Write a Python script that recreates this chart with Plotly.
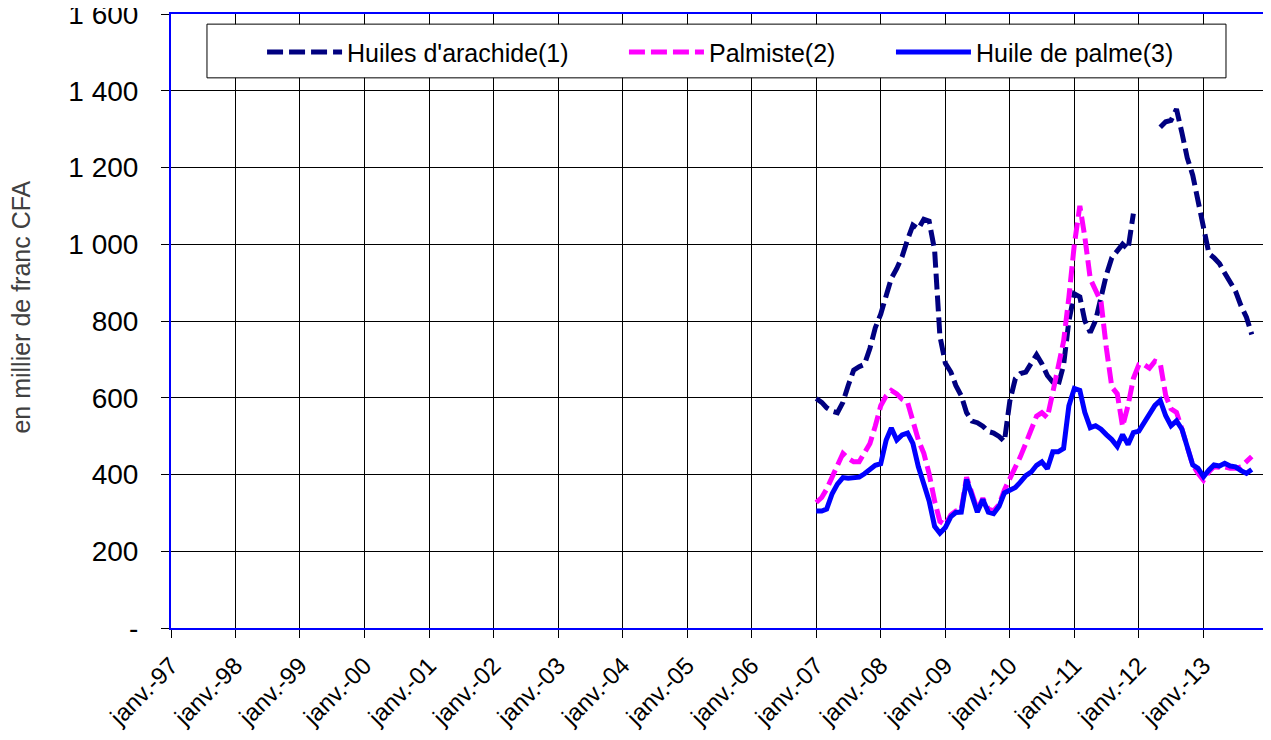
import plotly.graph_objects as go
import pandas as pd

# monthly series, janv. 2007 -> oct. 2013
months = pd.date_range("2007-01-01", periods=82, freq="MS")

arachide = [598, 588, 574, 565, 561, 588, 632, 672, 681, 687, 729, 782,
            818, 862, 911, 937, 968, 1012, 1050, 1040, 1065, 1060, 985, 760,
            690, 667, 632, 605, 561, 539, 535, 526, 512, 508, 499, 486,
            592, 650, 663, 667, 689, 712, 689, 658, 641, 632, 685, 800,
            871, 863, 801, 770, 801, 863, 920, 965, 982, 1000, 987, 1080,
            None, None, None, None, 1305, 1319, 1323, 1352, 1290, 1225, 1180, 1115,
            1040, 975, 965, 950, 925, 900, 878, 840, 810, 765]

palmiste = [327, 340, 362, 393, 424, 455, 442, 433, 433, 455, 481, 526,
            579, 605, 619, 610, 596, 588, 543, 490, 455, 402, 331, 278,
            269, 295, 305, 308, 393, 350, 308, 338, 310, 305, 322, 360,
            388, 415, 446, 481, 517, 552, 561, 548, 614, 676, 747, 862,
            1000, 1100, 1020, 910, 880, 850, 730, 628, 610, 525, 580, 650,
            686, 686, 677, 695, 690, 606, 571, 562, 518, 473, 425, 403,
            385, 407, 420, 419, 420, 416, 416, 420, 434, 447]

palme = [305, 305, 310, 350, 375, 392, 390, 392, 393, 402, 415, 424,
         428, 490, 521, 490, 503, 508, 481, 420, 375, 331, 265, 247,
         262, 290, 301, 302, 387, 343, 302, 335, 302, 298, 317, 352,
         360, 366, 380, 397, 406, 424, 433, 415, 459, 459, 468, 579,
         624, 619, 562, 522, 527, 518, 504, 491, 473, 504, 478, 509,
         513, 535, 553, 580, 593, 553, 527, 540, 518, 473, 425, 416,
         394, 412, 425, 422, 429, 422, 420, 410, 403, 413]

tick_dates = pd.date_range("1997-01-01", "2013-01-01", freq="YS")
tick_labels = ["janv.-%02d" % (d.year % 100) for d in tick_dates]
y_vals = [0, 200, 400, 600, 800, 1000, 1200, 1400, 1600]
y_labels = ["-", "200", "400", "600", "800", "1 000", "1 200", "1 400", "1 600"]

DASH = "16px,6px"

fig = go.Figure()
fig.add_trace(go.Scatter(x=months, y=arachide, mode="lines", name="Huiles d'arachide(1)",
                         line=dict(color="#000080", width=5, dash=DASH), legend="legend"))
fig.add_trace(go.Scatter(x=months, y=palmiste, mode="lines", name="Palmiste(2)",
                         line=dict(color="#FF00FF", width=5, dash=DASH), legend="legend2"))
fig.add_trace(go.Scatter(x=months, y=palme, mode="lines", name="Huile de palme(3)",
                         line=dict(color="#0000FF", width=5), legend="legend3"))

# cadre de la légende
fig.add_shape(type="rect", xref="paper", yref="paper",
              x0=0.0328, x1=0.9617, y0=0.896, y1=0.9835,
              line=dict(color="black", width=1), fillcolor="white", layer="above")

fig.add_annotation(text="en millier de franc CFA", xref="paper", yref="paper",
                   x=-0.137, y=0.523, xanchor="center", yanchor="middle",
                   textangle=-90, showarrow=False,
                   font=dict(size=25, color="#404040"))


def leg(x):
    return dict(x=x, xanchor="left", y=0.975, yanchor="top",
                bgcolor="rgba(0,0,0,0)", borderwidth=0,
                font=dict(size=25), itemwidth=75)


# la page ajoute une marge de 8 px autour de la figure
fig.update_layout(
    width=1263, height=732,
    margin=dict(l=163, r=3, t=6, b=112),
    paper_bgcolor="white", plot_bgcolor="white",
    font=dict(family="Liberation Sans, Arial, sans-serif", color="black"),
    showlegend=True,
    legend=leg(0.0830), legend2=leg(0.4129), legend3=leg(0.6563),
)
fig.update_xaxes(type="date", range=["1997-01-01", "2014-01-01"],
                 tickvals=tick_dates, ticktext=tick_labels, tickangle=-45,
                 tickfont=dict(size=24), ticks="outside", ticklen=8, tickcolor="black",
                 ticklabelstandoff=4, ticklabeloverflow="allow",
                 showgrid=True, gridcolor="black", gridwidth=1,
                 showline=True, linecolor="#0000FF", linewidth=2, mirror=True,
                 zeroline=False, automargin=False)
fig.update_yaxes(range=[0, 1600], tickvals=y_vals, ticktext=y_labels,
                 tickfont=dict(size=28), ticks="outside", ticklen=8, tickcolor="black",
                 ticklabelstandoff=17, ticklabeloverflow="allow",
                 showgrid=True, gridcolor="black", gridwidth=1,
                 showline=True, linecolor="#0000FF", linewidth=2, mirror=True,
                 zeroline=False, automargin=False)

fig.write_html("out.html")
